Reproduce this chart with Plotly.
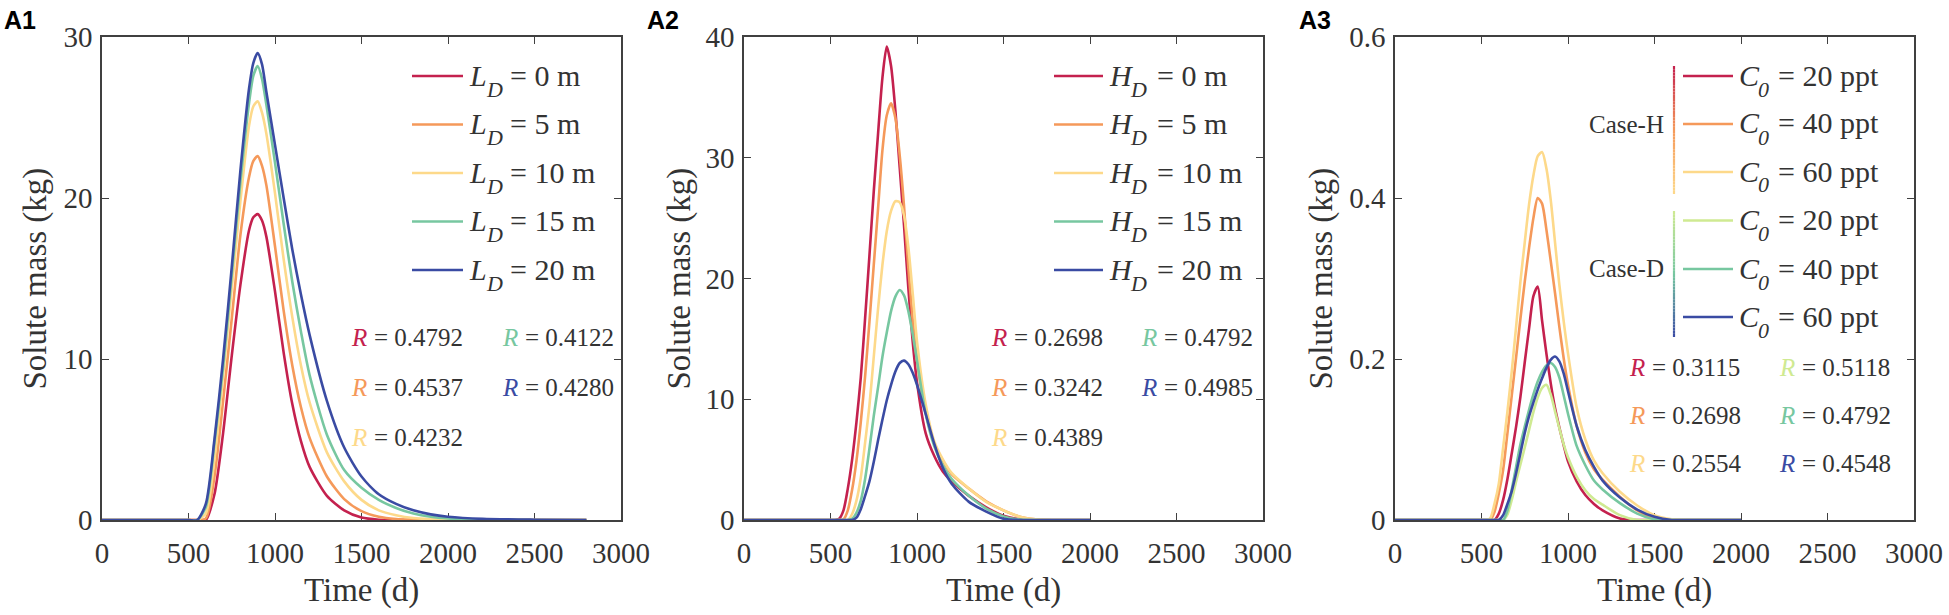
import plotly.graph_objects as go

W, H = 1949, 615

# ---------------- data ----------------
time_a1 = [0, 500, 550, 600, 650, 700, 750, 800, 850, 875, 900, 925, 950, 1000, 1050, 1100,
           1150, 1200, 1300, 1400, 1500, 1600, 1700, 1800, 1900, 2000, 2200, 2500, 2800]
a1_LD0 = [0, 0, 0, 0, 1.6, 5.4, 10.2, 14.6, 18.0, 18.8, 19.0, 18.6, 17.6, 14.2, 10.4, 7.2,
          4.9, 3.3, 1.5, 0.6, 0.15, 0.02, 0, 0, 0, 0, 0, 0, 0]
a1_LD5 = [0, 0, 0, 0.1, 2.7, 7.4, 12.5, 17.7, 21.3, 22.3, 22.6, 22.0, 20.8, 17.0, 13.0, 9.6,
          7.0, 5.1, 2.7, 1.3, 0.55, 0.2, 0.06, 0.02, 0, 0, 0, 0, 0]
a1_LD10 = [0, 0, 0, 0.4, 3.8, 9.0, 14.4, 19.8, 24.5, 25.7, 26.0, 25.3, 24.0, 20.3, 16.2, 12.6,
           9.6, 7.3, 4.2, 2.4, 1.25, 0.6, 0.3, 0.12, 0.05, 0.02, 0, 0, 0]
a1_LD15 = [0, 0, 0, 0.8, 4.8, 9.5, 15.2, 21.0, 25.9, 27.6, 28.2, 27.4, 25.8, 22.2, 18.4, 14.8,
           11.7, 9.0, 5.3, 3.1, 2.0, 1.25, 0.75, 0.4, 0.2, 0.1, 0.03, 0, 0]
a1_LD20 = [0, 0, 0, 1.0, 5.0, 10.0, 15.7, 21.7, 26.8, 28.4, 29.0, 28.3, 26.6, 23.3, 20.0, 16.8,
           14.0, 11.5, 7.4, 4.5, 2.7, 1.6, 1.0, 0.6, 0.35, 0.2, 0.07, 0.02, 0]

time_a23 = [0, 500, 525, 550, 575, 600, 625, 650, 675, 700, 725, 750, 775, 800, 825, 850,
            875, 900, 925, 950, 975, 1000, 1050, 1100, 1150, 1200, 1300, 1400, 1500, 1600,
            1700, 1800, 2000]
a2_HD0 = [0, 0, 0, 0.1, 0.8, 2.6, 5.0, 8.1, 11.8, 16.7, 21.9, 27.2, 32.0, 36.6, 39.2, 37.6,
          33.9, 29.2, 24.4, 19.2, 14.8, 11.4, 7.2, 5.3, 4.0, 3.2, 2.0, 1.05, 0.35, 0.05,
          0, 0, 0]
a2_HD5 = [0, 0, 0, 0, 0.05, 0.8, 2.5, 4.9, 8.1, 11.9, 16.4, 21.1, 25.8, 30.6, 33.5, 34.5,
          33.3, 30.2, 26.0, 20.9, 16.6, 13.2, 8.9, 6.3, 4.9, 3.8, 2.6, 1.55, 0.8, 0.25,
          0.03, 0, 0]
a2_HD10 = [0, 0, 0, 0, 0, 0, 0.5, 1.6, 3.5, 6.4, 9.5, 13.5, 17.5, 21.1, 23.9, 25.6,
           26.4, 26.3, 25.2, 22.6, 18.8, 14.8, 9.6, 6.5, 5.0, 3.9, 2.6, 1.5, 0.8, 0.25,
           0.03, 0, 0]
a2_HD15 = [0, 0, 0, 0, 0, 0, 0.1, 0.6, 1.6, 3.4, 5.9, 8.6, 11.0, 13.5, 15.5, 17.3,
           18.5, 19.05, 18.6, 17.3, 15.4, 13.2, 8.8, 6.1, 4.5, 3.4, 2.0, 0.95, 0.3, 0.03,
           0, 0, 0]
a2_HD20 = [0, 0, 0, 0, 0, 0, 0, 0.2, 0.9, 2.0, 3.2, 4.8, 6.6, 8.3, 9.9, 11.2,
           12.3, 13.0, 13.2, 12.9, 12.2, 11.2, 8.8, 6.3, 4.3, 3.0, 1.5, 0.7, 0.1, 0,
           0, 0, 0]

a3_H20 = [0, 0, 0, 0, 0, 0.008, 0.025, 0.051, 0.083, 0.116, 0.153, 0.196, 0.238, 0.278,
          0.290, 0.248, 0.207, 0.170, 0.139, 0.115, 0.093, 0.073, 0.048, 0.031, 0.020,
          0.012, 0.002, 0, 0, 0, 0, 0, 0]
a3_H40 = [0, 0, 0, 0, 0.01, 0.033, 0.062, 0.108, 0.155, 0.202, 0.250, 0.296, 0.338, 0.375,
          0.400, 0.393, 0.361, 0.322, 0.282, 0.240, 0.201, 0.168, 0.117, 0.084, 0.063,
          0.050, 0.029, 0.012, 0.002, 0, 0, 0, 0]
a3_H60 = [0, 0, 0, 0.002, 0.02, 0.045, 0.090, 0.135, 0.185, 0.240, 0.296, 0.345, 0.392,
          0.428, 0.452, 0.457, 0.437, 0.398, 0.345, 0.292, 0.247, 0.207, 0.140, 0.100,
          0.074, 0.058, 0.035, 0.018, 0.006, 0.001, 0, 0, 0]
a3_D20 = [0, 0, 0, 0, 0, 0, 0, 0.007, 0.025, 0.048, 0.069, 0.090, 0.112, 0.134, 0.152,
          0.164, 0.168, 0.156, 0.135, 0.114, 0.094, 0.078, 0.054, 0.037, 0.026, 0.019,
          0.006, 0, 0, 0, 0, 0, 0]
a3_D40 = [0, 0, 0, 0, 0, 0, 0, 0.012, 0.038, 0.066, 0.094, 0.116, 0.137, 0.156, 0.172,
          0.184, 0.192, 0.195, 0.190, 0.177, 0.155, 0.132, 0.092, 0.068, 0.049, 0.038,
          0.021, 0.008, 0.001, 0, 0, 0, 0]
a3_D60 = [0, 0, 0, 0, 0, 0, 0.006, 0.020, 0.036, 0.058, 0.083, 0.108, 0.129, 0.146, 0.162,
          0.176, 0.189, 0.199, 0.203, 0.197, 0.182, 0.160, 0.117, 0.087, 0.066, 0.049,
          0.028, 0.013, 0.004, 0, 0, 0, 0]

a1_labels = ["0 m", "5 m", "10 m", "15 m", "20 m"]
a3_labels = ["20 ppt", "40 ppt", "60 ppt", "20 ppt", "40 ppt", "60 ppt"]
a1_R = ["0.4792", "0.4537", "0.4232", "0.4122", "0.4280"]
a2_R = ["0.2698", "0.3242", "0.4389", "0.4792", "0.4985"]
a3_R = ["0.3115", "0.2698", "0.2554", "0.5118", "0.4792", "0.4548"]

x_ticks = [0, 500, 1000, 1500, 2000, 2500, 3000]
y_ticks_a1 = [0, 10, 20, 30]
y_ticks_a2 = [0, 10, 20, 30, 40]
y_ticks_a3 = [0, 0.2, 0.4, 0.6]
y_ticktext_a3 = ["0", "0.2", "0.4", "0.6"]

# ---------------- style ----------------
RED, ORANGE, YELLOW = "#C4214E", "#F5995A", "#FDD98A"
LGREEN, GREEN, BLUE = "#CFEA92", "#77C7A0", "#3A4BA3"
five = [RED, ORANGE, YELLOW, GREEN, BLUE]
six = [RED, ORANGE, YELLOW, LGREEN, GREEN, BLUE]
TXT = "#333333"
AX = "#404040"
SERIF = "Liberation Serif"
LEG_SIZE, SUB_SIZE, R_SIZE = 30, 22, 25


def X(px):
    return px / W


def Y(py):
    return 1 - py / H


fig = go.Figure()

panels = [
    ("x", "y", time_a1, [a1_LD0, a1_LD5, a1_LD10, a1_LD15, a1_LD20], five),
    ("x2", "y2", time_a23, [a2_HD0, a2_HD5, a2_HD10, a2_HD15, a2_HD20], five),
    ("x3", "y3", time_a23, [a3_H20, a3_H40, a3_H60, a3_D20, a3_D40, a3_D60], six),
]
for xa, ya, tt, series, cols in panels:
    for vals, c in zip(series, cols):
        fig.add_trace(go.Scatter(x=tt, y=vals, mode="lines", xaxis=xa, yaxis=ya,
                                 line=dict(color=c, width=2.6, shape="spline", smoothing=0.7),
                                 showlegend=False, hoverinfo="skip"))

plot_px = [(102, 621), (744, 1263), (1395, 1914)]
top_px, bot_px = 37, 520


def common_axis():
    return dict(ticks="inside", ticklen=7, tickwidth=1.3, tickcolor=AX,
                showline=True, linecolor=AX, linewidth=1.5, mirror="ticks",
                showgrid=False, zeroline=False, layer="below traces", automargin=False,
                tickfont=dict(family=SERIF, size=29, color=TXT))


def xaxis(dom, anchor):
    d = common_axis()
    d.update(domain=[X(dom[0]), X(dom[1])], anchor=anchor, range=[0, 3000],
             tickvals=x_ticks, ticktext=[str(v) for v in x_ticks], ticklabelstandoff=6)
    return d


def yaxis(rng, tv, tt, anchor):
    d = common_axis()
    d.update(domain=[Y(bot_px), Y(top_px)], anchor=anchor, range=rng,
             tickvals=tv, ticktext=tt, ticklabelstandoff=2)
    return d


layout = dict(template="none", width=W, height=H, margin=dict(l=0, r=0, t=0, b=0, pad=0),
              autosize=False, paper_bgcolor="white", plot_bgcolor="white", showlegend=False,
              font=dict(family=SERIF, color=TXT))
layout["xaxis"] = xaxis(plot_px[0], "y")
layout["xaxis2"] = xaxis(plot_px[1], "y2")
layout["xaxis3"] = xaxis(plot_px[2], "y3")
layout["yaxis"] = yaxis([0, 30], y_ticks_a1, [str(v) for v in y_ticks_a1], "x")
layout["yaxis2"] = yaxis([0, 40], y_ticks_a2, [str(v) for v in y_ticks_a2], "x2")
layout["yaxis3"] = yaxis([0, 0.6], y_ticks_a3, y_ticktext_a3, "x3")
fig.update_layout(**layout)

ann = []
shapes = []


def txt(px, py, s, size, color=TXT, italic=False, xa="left", ya="middle", angle=0,
        family=SERIF):
    f = dict(family=family, size=size, color=color)
    if italic:
        f["style"] = "italic"
    ann.append(dict(x=X(px), y=Y(py), xref="paper", yref="paper", xanchor=xa, yanchor=ya,
                    text=s, showarrow=False, textangle=angle, font=f))


# panel letters
for lab, px in [("A1", 2), ("A2", 645), ("A3", 1297)]:
    txt(px, 4, "<b>" + lab + "</b>", 25, color="black", ya="top", family="Liberation Sans")

# axis titles
for (l, r), ytx in zip(plot_px, [35, 679, 1321]):
    txt((l + r) / 2, 590, "Time (d)", 33, xa="center")
    txt(ytx, (top_px + bot_px) / 2, "Solute mass (kg)", 33, xa="center", angle=-90)

# legends for A1 / A2  (symbol x, subscript x, rest x)
rows5 = [76, 124.5, 173, 221.5, 270]
for (x0, x1, xs, xsub, xr, sym) in [(412, 463, 467, 484, 508, "L"),
                                    (1054, 1103, 1107, 1128, 1155, "H")]:
    for ry, c, lab in zip(rows5, five, a1_labels):
        shapes.append(dict(type="line", xref="paper", yref="paper", x0=X(x0), x1=X(x1),
                           y0=Y(ry), y1=Y(ry), line=dict(color=c, width=2.6)))
        txt(xs, ry - 1, sym, LEG_SIZE, italic=True)
        txt(xsub, ry + 13, "D", SUB_SIZE, italic=True)
        txt(xr, ry - 1, "= " + lab, LEG_SIZE)

# legend for A3
rows6 = [76, 124, 172, 220.5, 269, 317]
for ry, c, lab in zip(rows6, six, a3_labels):
    shapes.append(dict(type="line", xref="paper", yref="paper", x0=X(1683), x1=X(1733),
                       y0=Y(ry), y1=Y(ry), line=dict(color=c, width=2.6)))
    txt(1737, ry - 1, "C", LEG_SIZE, italic=True)
    txt(1756, ry + 13, "0", SUB_SIZE, italic=True)
    txt(1776, ry - 1, "= " + lab, LEG_SIZE)


def hex2rgb(h):
    h = h.lstrip("#")
    return [int(h[i:i + 2], 16) for i in (0, 2, 4)]


def gradient_bar(xp, y0, y1, cols, n=40):
    stops = [hex2rgb(c) for c in cols]
    for i in range(n):
        f = (i + 0.5) / n * (len(stops) - 1)
        k = min(int(f), len(stops) - 2)
        u = f - k
        rgb = [round(stops[k][j] * (1 - u) + stops[k + 1][j] * u) for j in range(3)]
        ya = y0 + (y1 - y0) * i / n
        yb = y0 + (y1 - y0) * (i + 1) / n
        shapes.append(dict(type="line", xref="paper", yref="paper", x0=X(xp), x1=X(xp),
                           y0=Y(ya), y1=Y(yb),
                           line=dict(color=f"rgb({rgb[0]},{rgb[1]},{rgb[2]})", width=2.2)))


gradient_bar(1674, 66, 194, [RED, ORANGE, YELLOW])
gradient_bar(1674, 211, 337, [LGREEN, GREEN, BLUE])
txt(1666, 124, "Case-H", 25, xa="right")
txt(1666, 268, "Case-D", 25, xa="right")


# R annotations
def r_block(vals, cols, colx, rowy, per_col):
    for i, (v, c) in enumerate(zip(vals, cols)):
        cx = colx[i // per_col]
        ry = rowy[i % per_col]
        txt(cx, ry, "R", R_SIZE, color=c, italic=True)
        txt(cx + 23, ry, "= " + v, R_SIZE)


r_block(a1_R, five, [349, 500], [337, 387, 437], 3)
r_block(a2_R, five, [989, 1139], [337, 387, 437], 3)
r_block(a3_R, six, [1627, 1777], [367, 415, 463], 3)

fig.update_layout(annotations=ann, shapes=shapes)
fig.write_html("out.html", config={"displayModeBar": False},
               post_script="document.body.style.margin='0px';")
